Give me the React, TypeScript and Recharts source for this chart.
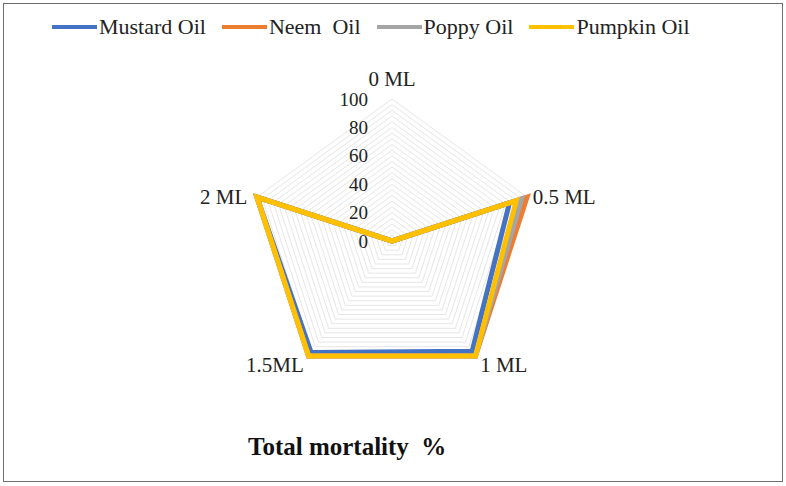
import React from "react";
import {
  RadarChart,
  Radar,
  PolarGrid,
  PolarAngleAxis,
  PolarRadiusAxis,
} from "recharts";

const doses = ["0 ML", "0.5 ML", "1 ML", "1.5ML", "2 ML"];
const mustardOil = [0, 87, 96, 97, 100];
const neemOil = [0, 100, 100, 100, 100];
const poppyOil = [0, 96, 100, 100, 100];
const pumpkinOil = [0, 92, 100, 100, 100];

const minorTicks = [0, 4, 8, 12, 16, 20, 24, 28, 32, 36, 40, 44, 48, 52, 56, 60, 64, 68, 72, 76, 80, 84, 88, 92, 96, 100];
const majorTicks = [0, 20, 40, 60, 80, 100];

const series = [
  { key: "mustard", name: "Mustard Oil", color: "#4472C4" },
  { key: "neem", name: "Neem  Oil", color: "#ED7D31" },
  { key: "poppy", name: "Poppy Oil", color: "#A5A5A5" },
  { key: "pumpkin", name: "Pumpkin Oil", color: "#FFC000" },
];

const data = doses.map((dose, i) => ({
  dose,
  mustard: mustardOil[i],
  neem: neemOil[i],
  poppy: poppyOil[i],
  pumpkin: pumpkinOil[i],
}));

const FONT = "Liberation Serif, DejaVu Serif, serif";
const CX = 392;
const CY = 241;

function LegendBox() {
  return (
    <div style={{ display: "flex", paddingLeft: 52, fontFamily: FONT, fontSize: 22, color: "#222" }}>
      {series.map((s) => (
        <div key={s.key} style={{ display: "flex", alignItems: "center", marginRight: 16 }}>
          <span style={{ display: "inline-block", width: 45, height: 4, background: s.color, marginRight: 2 }} />
          <span style={{ whiteSpace: "pre" }}>{s.name}</span>
        </div>
      ))}
    </div>
  );
}

function RadiusTick(props: any) {
  const { x, y, payload } = props;
  if (payload.value % 20 !== 0) return null;
  return (
    <text x={x - 24} y={y} textAnchor="end" dominantBaseline="central" fontFamily={FONT} fontSize={19} fill="#222">
      {payload.value}
    </text>
  );
}

function AngleTick(props: any) {
  const { x, y, textAnchor, payload } = props;
  let dx = 0;
  let dy = 2;
  if (y > CY + 50) dy = 3;
  else if (y < CY - 100) dy = -12;
  else dx = textAnchor === "start" ? -2 : -2;
  return (
    <text x={x + dx} y={y + dy} textAnchor={textAnchor} dominantBaseline="central" fontFamily={FONT} fontSize={21} fill="#222">
      {payload.value}
    </text>
  );
}

export default function App() {
  return (
    <div style={{ position: "absolute", left: 0, top: 0, width: 786, height: 486, background: "#fff" }}>
      <div style={{ position: "absolute", left: 3, top: 3, width: 778, height: 477, border: "1px solid #6f6f6f" }} />
      <div style={{ position: "absolute", left: 0, top: 14, width: 786 }}>
        <LegendBox />
      </div>
      <div style={{ position: "absolute", left: 0, top: 0 }}>
        <RadarChart width={786} height={486} data={data} cx={CX} cy={CY} outerRadius={142} margin={{ top: 0, right: 0, bottom: 0, left: 0 }}>
          <PolarGrid gridType="polygon" radialLines={false} stroke="#e6e6e6" radiusAxisId="minor" />
          <PolarGrid gridType="polygon" radialLines={false} stroke="#cccccc" radiusAxisId="major" />
          <PolarAngleAxis dataKey="dose" tickLine={false} axisLine={false} tick={AngleTick} />
          <PolarRadiusAxis
            radiusAxisId="minor"
            angle={90}
            domain={[0, 100]}
            ticks={minorTicks}
            axisLine={false}
            tickLine={false}
            tick={RadiusTick}
          />
          <PolarRadiusAxis
            radiusAxisId="major"
            angle={90}
            domain={[0, 100]}
            ticks={majorTicks}
            axisLine={false}
            tickLine={false}
            tick={false}
          />
          {series.map((s) => (
            <Radar
              key={s.key}
              radiusAxisId="minor"
              dataKey={s.key}
              name={s.name}
              stroke={s.color}
              strokeWidth={5}
              strokeLinejoin="miter"
              fill="none"
              fillOpacity={0}
              dot={false}
              isAnimationActive={false}
            />
          ))}
        </RadarChart>
      </div>
      <div style={{ position: "absolute", left: 248, top: 433, fontFamily: FONT, fontSize: 25, fontWeight: "bold", color: "#111", whiteSpace: "pre" }}>
        {"Total mortality  %"}
      </div>
    </div>
  );
}
